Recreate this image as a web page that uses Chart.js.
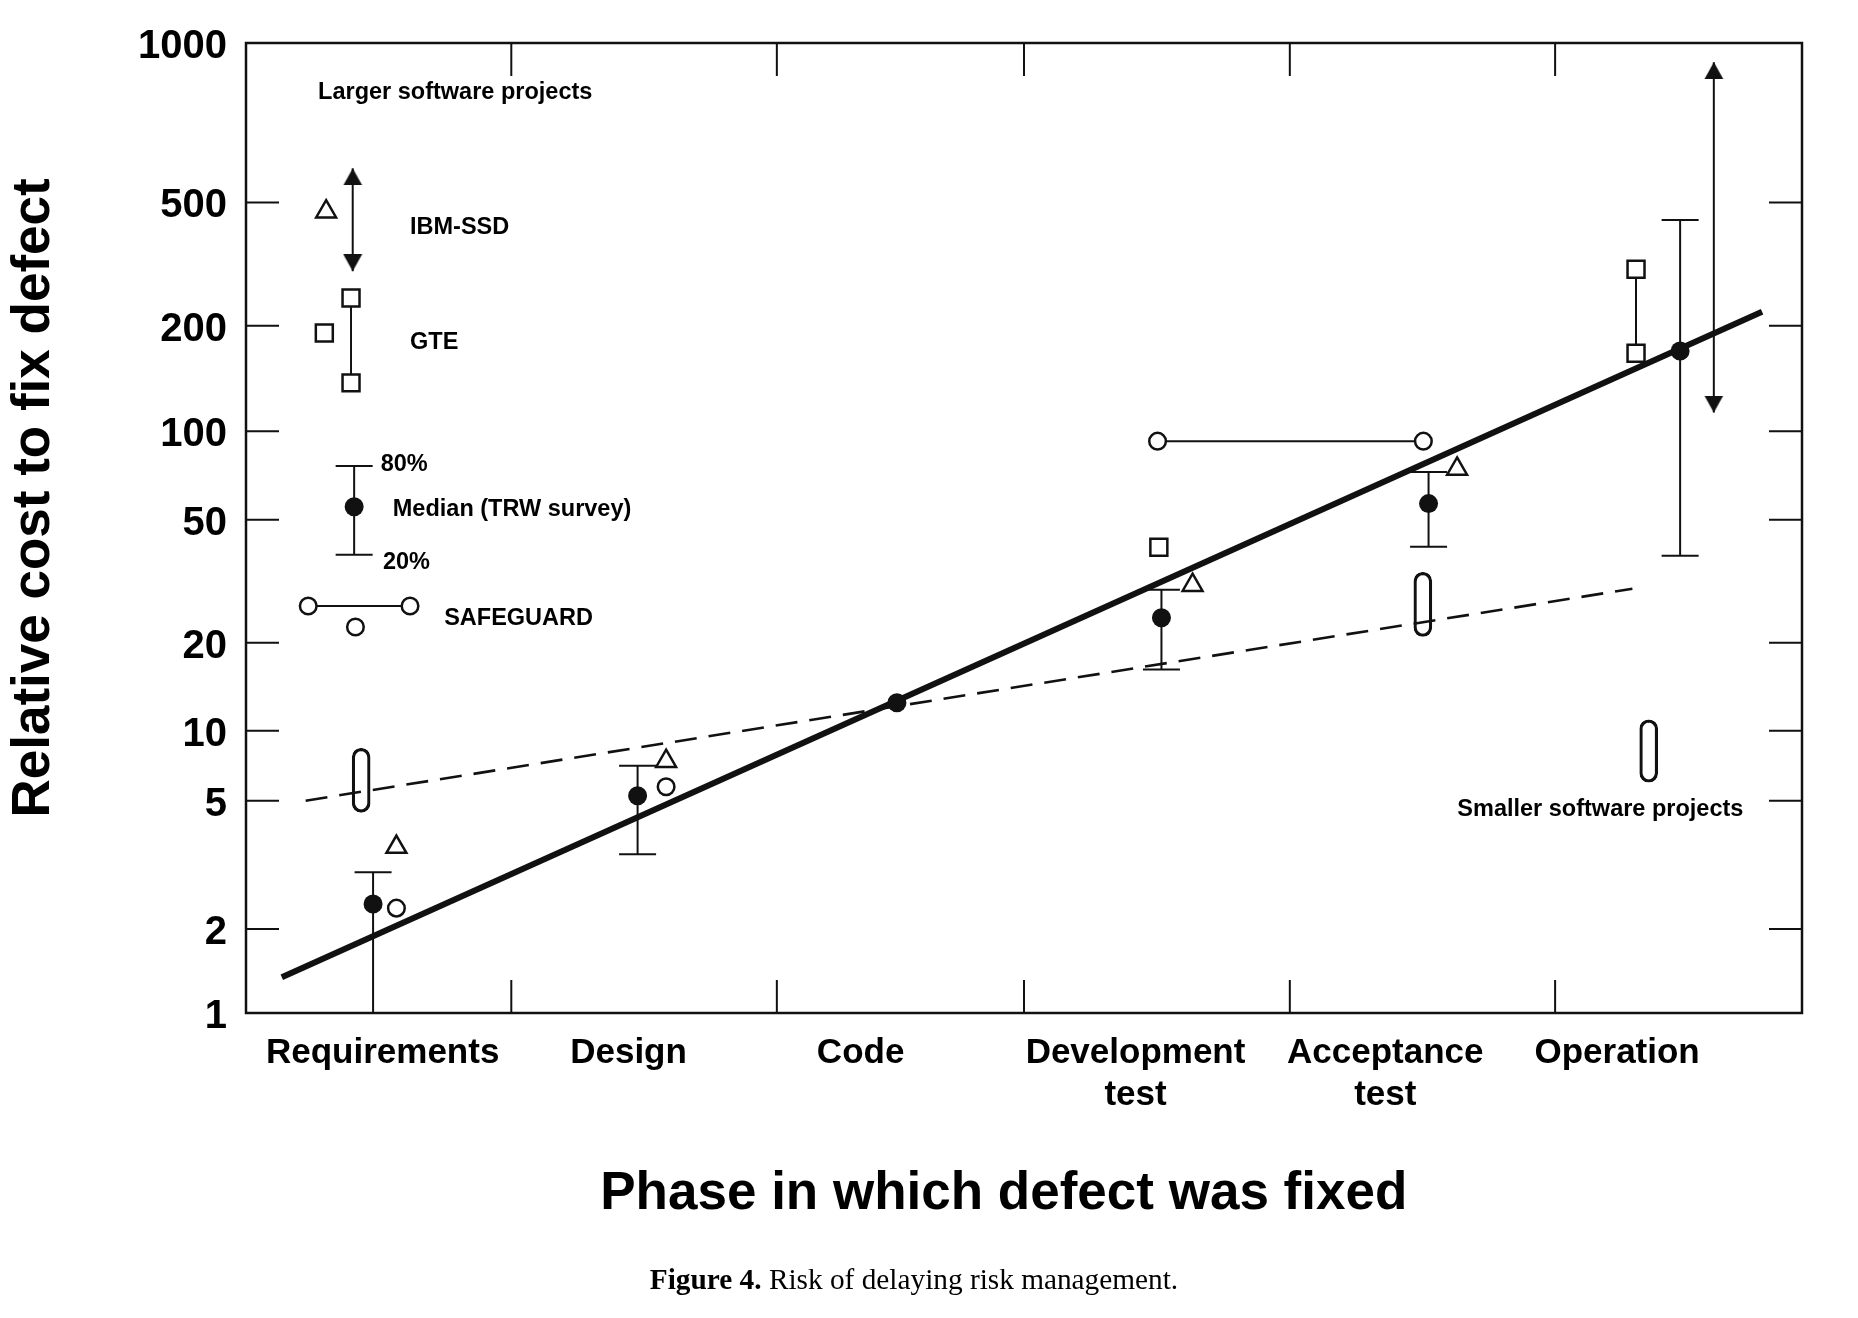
<!DOCTYPE html>
<html>
<head>
<meta charset="utf-8">
<title>Risk of delaying risk management</title>
<script src="https://cdn.jsdelivr.net/npm/chart.js@4.4.1/dist/chart.umd.min.js"></script>
<style>
    html, body { margin: 0; padding: 0; background: #fff; }
    #wrap { position: relative; width: 1858px; height: 1318px; }
    #caption {
        position: absolute; left: 0; top: 1265px; width: 1828px;
        text-align: center; color: #000;
        font: 29.3px/29px 'Liberation Serif', 'Times New Roman', serif;
    }
</style>
</head>
<body>
<div id="wrap">
    <canvas id="riskChart"></canvas>
    <div id="caption"><b>Figure 4.</b> Risk of delaying risk management.</div>
</div>
<script>
// axis: phases and cost ticks
const phases = ['Requirements', 'Design', 'Code', ['Development', 'test'], ['Acceptance', 'test'], 'Operation'];
const costTicks = [1, 2, 5, 10, 20, 50, 100, 200, 500, 1000];

// TRW survey medians (the Code point sits on both trend lines)
const medianX = [-0.01, 1.01, 2.01, 3.03, 4.06, 5.03];
const medianCost = [2.39, 5.25, 12.46, 24.1, 56.7, 169.5];
// TRW survey 20% / 80% ranges
const rangeX = [-0.01, 1.01, 3.03, 4.06, 5.03];
const range20 = [1, 3.41, 16.2, 40.9, 38.2];
const range80 = [3.0, 7.07, 29.7, 72.7, 439];

// IBM-SSD
const ibmX = [0.08, 1.12, 3.15, 4.17];
const ibmCost = [3.59, 7.39, 30.7, 74.4];
const ibmOpX = 5.16;
const ibmOpRange = [113, 920];

// GTE
const gteX = [3.02];
const gteCost = [40.7];
const gteOpX = 4.86;
const gteOpRange = [166.9, 304.2];

// SAFEGUARD
const sgX = [0.08, 1.12];
const sgCost = [2.32, 5.74];
const sgPairX = [3.015, 4.04];
const sgPairCost = 92.5;

// smaller software projects (capsules)
const smallX = [-0.056, 4.038, 4.909];
const smallLow = [4.6, 20.95, 6.0];
const smallHigh = [8.4, 33.8, 10.9];

// trend lines
const largeTrendX = [-0.362, 5.346];
const largeTrendCost = [1.342, 222];
const smallTrendX = [-0.27, 4.846];
const smallTrendCost = [5.0, 29.9];

// key glyphs in the upper left corner
const keyIbmTri = [-0.191, 467];
const keyIbmArrowX = -0.0885;
const keyIbmArrow = [300, 580];
const keyGteLone = [-0.198, 190.8];
const keyGteX = -0.095;
const keyGteRange = [137.4, 245.8];
const keyMedianX = -0.083;
const keyMedian = [38.5, 55.3, 76.2];
const keySgPairX = [-0.26, 0.1325];
const keySgPairCost = 26.3;
const keySgLone = [-0.078, 22.5];

// the printed axis is not evenly logarithmic: where each tick sits (0 = bottom, 1 = top)
const costTickPlace = [0, 0.0867, 0.2189, 0.2911, 0.3817, 0.5086, 0.5998, 0.7085, 0.8356, 1];
const phaseLabelAt = [0.027, 0.975, 1.87, 2.93, 3.893, 4.787];
const phaseBreaks = [0.523, 1.547, 2.5, 3.525, 4.548];

const notes = [
    { text: 'Larger software projects', x: -0.222, y: 805 },
    { text: 'IBM-SSD', x: 0.1325, y: 415 },
    { text: 'GTE', x: 0.1325, y: 178.6 },
    { text: '80%', x: 0.0195, y: 77.3 },
    { text: 'Median (TRW survey)', x: 0.066, y: 54.0 },
    { text: '20%', x: 0.028, y: 36.3 },
    { text: 'SAFEGUARD', x: 0.264, y: 23.96 },
    { text: 'Smaller software projects', x: 4.171, y: 4.71 }
];

const xTitle = 'Phase in which defect was fixed';
const yTitle = 'Relative cost to fix defect';

const ink = '#111';
const sans = "'Liberation Sans', Arial, Helvetica, sans-serif";
Chart.defaults.font.family = sans;
Chart.defaults.color = '#000';

function costToDecimal(v) {
    let i = 0;
    while (i < costTicks.length - 2 && v > costTicks[i + 1]) i++;
    const l0 = Math.log10(costTicks[i]);
    const l1 = Math.log10(costTicks[i + 1]);
    return costTickPlace[i] + (costTickPlace[i + 1] - costTickPlace[i]) * (Math.log10(v) - l0) / (l1 - l0);
}

function decimalToCost(d) {
    let i = 0;
    while (i < costTickPlace.length - 2 && d > costTickPlace[i + 1]) i++;
    const l0 = Math.log10(costTicks[i]);
    const l1 = Math.log10(costTicks[i + 1]);
    const f = (d - costTickPlace[i]) / (costTickPlace[i + 1] - costTickPlace[i]);
    return Math.pow(10, l0 + f * (l1 - l0));
}

const LogScale = Chart.LogarithmicScale || Chart.registry.getScale('logarithmic');

class PhaseCostScale extends LogScale {
    buildTicks() {
        return costTicks.map(v => ({ value: v }));
    }
    getPixelForValue(value) {
        if (value === null || value === undefined || isNaN(value)) return NaN;
        return this.getPixelForDecimal(costToDecimal(value));
    }
    getValueForPixel(pixel) {
        return decimalToCost(this.getDecimalForPixel(pixel));
    }
}
PhaseCostScale.id = 'phaseCost';
PhaseCostScale.defaults = { ticks: { callback: v => String(v) } };
Chart.register(PhaseCostScale);

function arrowHead() {
    const c = document.createElement('canvas');
    c.width = 20;
    c.height = 34;
    const g = c.getContext('2d');
    g.fillStyle = ink;
    g.beginPath();
    g.moveTo(10, 17);
    g.lineTo(19.5, 34);
    g.lineTo(0.5, 34);
    g.closePath();
    g.fill();
    return c;
}

const xy = (xs, ys) => xs.map((x, i) => ({ x: x, y: ys[i] }));
const pt = p => ({ x: p[0], y: p[1] });

const hollow = {
    showLine: false,
    pointBackgroundColor: '#fff',
    pointBorderColor: ink,
    pointBorderWidth: 2.5
};

function rangeSet(x, lo, hi) {
    return {
        label: 'range',
        data: [{ x: x, y: lo }, { x: x, y: hi }],
        showLine: true,
        borderColor: ink,
        borderWidth: 2,
        pointStyle: 'line',
        pointRadius: 18.5,
        pointBorderColor: ink,
        pointBorderWidth: 2
    };
}

function arrowSet(x, range) {
    return {
        label: 'IBM-SSD range',
        data: [{ x: x, y: range[0] }, { x: x, y: range[1] }],
        showLine: true,
        borderColor: ink,
        borderWidth: 2,
        pointStyle: arrowHead(),
        pointRotation: [180, 0],
        pointRadius: 10
    };
}

function pairSet(label, data, style, radius) {
    return Object.assign({}, hollow, {
        label: label,
        data: data,
        showLine: true,
        borderColor: ink,
        borderWidth: 2,
        pointStyle: style,
        pointRadius: radius
    });
}

const datasets = [
    {
        label: 'Median (TRW survey)',
        data: xy(medianX, medianCost).concat([{ x: keyMedianX, y: keyMedian[1] }]),
        pointStyle: 'circle',
        pointRadius: 9.5,
        pointBackgroundColor: ink,
        pointBorderWidth: 0
    },
    Object.assign({}, hollow, {
        label: 'IBM-SSD',
        data: xy(ibmX, ibmCost).concat([pt(keyIbmTri)]),
        pointStyle: 'triangle',
        pointRadius: 11.5
    }),
    Object.assign({}, hollow, {
        label: 'GTE',
        data: xy(gteX, gteCost).concat([pt(keyGteLone)]),
        pointStyle: 'rect',
        pointRadius: 12
    }),
    Object.assign({}, hollow, {
        label: 'SAFEGUARD',
        data: xy(sgX, sgCost).concat([pt(keySgLone)]),
        pointStyle: 'circle',
        pointRadius: 8.3
    }),
    pairSet('GTE range', [{ x: gteOpX, y: gteOpRange[0] }, { x: gteOpX, y: gteOpRange[1] }], 'rect', 12),
    pairSet('GTE key', [{ x: keyGteX, y: keyGteRange[0] }, { x: keyGteX, y: keyGteRange[1] }], 'rect', 12),
    pairSet('SAFEGUARD range', sgPairX.map(x => ({ x: x, y: sgPairCost })), 'circle', 8.3),
    pairSet('SAFEGUARD key', keySgPairX.map(x => ({ x: x, y: keySgPairCost })), 'circle', 8.3)
];

rangeX.forEach((x, i) => datasets.push(rangeSet(x, range20[i], range80[i])));
datasets.push(rangeSet(keyMedianX, keyMedian[0], keyMedian[2]));
datasets.push(arrowSet(ibmOpX, ibmOpRange));
datasets.push(arrowSet(keyIbmArrowX, keyIbmArrow));

datasets.push({
    type: 'bar',
    label: 'Smaller software projects',
    data: smallX.map((x, i) => ({ x: x, y: [smallLow[i], smallHigh[i]] })),
    barThickness: 18,
    borderRadius: 9,
    borderSkipped: false,
    borderWidth: 2.5,
    borderColor: ink,
    backgroundColor: 'rgba(0,0,0,0)'
});

datasets.push({
    label: 'Larger projects trend',
    data: xy(largeTrendX, largeTrendCost),
    showLine: true,
    borderColor: ink,
    borderWidth: 6,
    pointRadius: 0
});

datasets.push({
    label: 'Smaller projects trend',
    data: xy(smallTrendX, smallTrendCost),
    showLine: true,
    borderColor: ink,
    borderWidth: 2.6,
    borderDash: [22, 12],
    pointRadius: 0
});

const frameTicks = {
    id: 'frameTicks',
    beforeDatasetsDraw(chart) {
        const { ctx, chartArea: a, scales: { x, y } } = chart;
        ctx.save();
        ctx.strokeStyle = ink;
        ctx.lineWidth = 2.5;
        ctx.strokeRect(a.left, a.top, a.right - a.left, a.bottom - a.top);
        ctx.lineWidth = 2;
        ctx.beginPath();
        costTicks.slice(1, -1).forEach(v => {
            const py = y.getPixelForValue(v);
            ctx.moveTo(a.left, py);
            ctx.lineTo(a.left + 33, py);
            ctx.moveTo(a.right, py);
            ctx.lineTo(a.right - 33, py);
        });
        phaseBreaks.forEach(v => {
            const px = x.getPixelForValue(v);
            ctx.moveTo(px, a.top);
            ctx.lineTo(px, a.top + 33);
            ctx.moveTo(px, a.bottom);
            ctx.lineTo(px, a.bottom - 33);
        });
        ctx.stroke();
        ctx.restore();
    }
};

const notesPlugin = {
    id: 'notes',
    afterDatasetsDraw(chart) {
        const { ctx, scales: { x, y } } = chart;
        ctx.save();
        ctx.fillStyle = '#000';
        ctx.font = 'bold 23.5px ' + sans;
        ctx.textAlign = 'left';
        ctx.textBaseline = 'middle';
        notes.forEach(n => ctx.fillText(n.text, x.getPixelForValue(n.x), y.getPixelForValue(n.y)));
        ctx.restore();
    }
};

// axis titles sit a little off the axis centres in the printed figure
const axisTitles = {
    id: 'axisTitles',
    afterDraw(chart) {
        const { ctx, chartArea: a } = chart;
        ctx.save();
        ctx.fillStyle = '#000';
        ctx.font = 'bold 53px ' + sans;
        ctx.textAlign = 'center';
        ctx.textBaseline = 'middle';
        ctx.fillText(xTitle, a.left + 0.487 * (a.right - a.left), a.bottom + 181);
        ctx.translate(34, a.top + 0.469 * (a.bottom - a.top));
        ctx.rotate(-Math.PI / 2);
        ctx.fillText(yTitle, 0, 0);
        ctx.restore();
    }
};

new Chart(document.getElementById('riskChart').getContext('2d'), {
    type: 'scatter',
    data: { datasets: datasets },
    plugins: [frameTicks, notesPlugin, axisTitles],
    options: {
        responsive: true,
        maintainAspectRatio: false,
        animation: false,
        layout: { padding: { top: 41, right: 56, bottom: 0, left: 0 } },
        plugins: {
            legend: { display: false },
            tooltip: { enabled: false }
        },
        elements: {
            line: { tension: 0 }
        },
        scales: {
            x: {
                type: 'linear',
                min: -0.5,
                max: 5.5,
                offset: false,
                grid: { display: false, drawTicks: false, offset: false },
                border: { display: false },
                afterBuildTicks: scale => {
                    scale.ticks = phaseLabelAt.map(v => ({ value: v }));
                },
                afterFit: scale => {
                    scale.height = 305;
                },
                ticks: {
                    autoSkip: false,
                    maxRotation: 0,
                    padding: 19,
                    color: '#000',
                    font: { size: 35, weight: 'bold' },
                    callback: (value, index) => phases[index]
                },
                title: { display: false, text: xTitle }
            },
            y: {
                type: 'phaseCost',
                min: 1,
                max: 1000,
                grid: { display: false, drawTicks: false },
                border: { display: false },
                afterFit: scale => {
                    scale.width = 246;
                },
                ticks: {
                    autoSkip: false,
                    padding: 19,
                    labelOffset: 4,
                    color: '#000',
                    font: { size: 40, weight: 'bold' },
                    callback: value => String(value)
                },
                title: { display: false, text: yTitle }
            }
        }
    }
});
</script>
</body>
</html>
